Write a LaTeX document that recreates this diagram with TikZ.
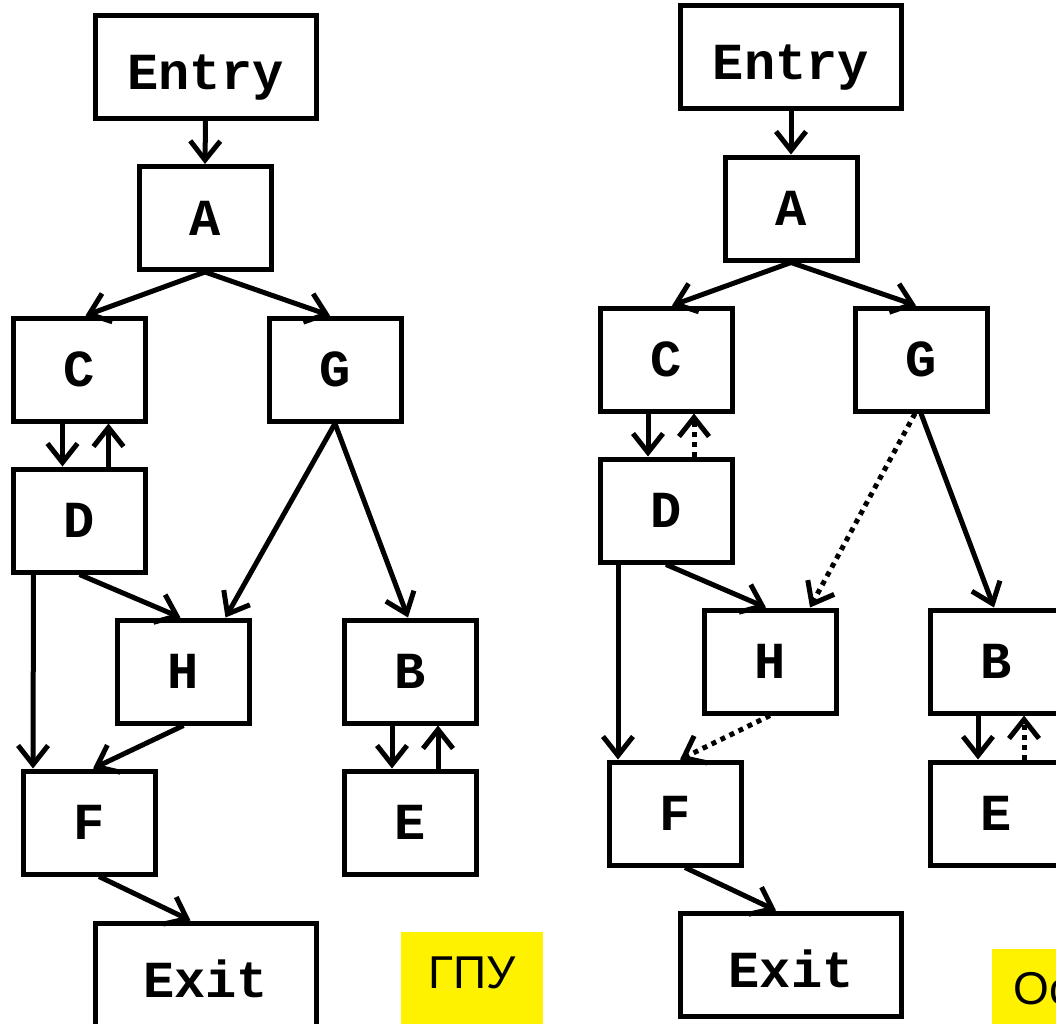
\documentclass[tikz,border=0pt]{standalone}
\usepackage{fontspec}
\setmonofont{Liberation Mono}
\newfontfamily\lsans{Liberation Sans}
\usetikzlibrary{arrows.meta}
\begin{document}
\begin{tikzpicture}[x=1pt,y=-1pt,
  blk/.style={draw, line width=5pt, rectangle, minimum width=132pt, minimum height=103pt,
    inner sep=0pt, font=\fontsize{52}{52}\selectfont\ttfamily\bfseries},
  wide/.style={blk, minimum width=221pt, text height=45pt, text depth=0pt},
  arr/.style={line width=5pt, -{Straight Barb[length=19pt,width=30pt]}},
  dot/.style={arr, dash pattern=on 5pt off 5pt},
  lbl/.style={fill=yellow, inner sep=0pt, font=\fontsize{46}{46}\selectfont\lsans}
]
\useasboundingbox (0,0) rectangle (1056,1023);
% ---------- left ----------
\node[wide] (en1) at (205.5,66.5) {Entry};
\node[blk] (a1) at (205,218) {A};
\node[blk] (c1) at (79.5,369.5) {C};
\node[blk] (g1) at (335,369.5) {G};
\node[blk] (d1) at (79.5,520.5) {D};
\node[blk] (h1) at (183.5,671.5) {H};
\node[blk] (b1) at (410,671.5) {B};
\node[blk] (f1) at (89,822.5) {F};
\node[blk] (e1) at (410,822.5) {E};
\node[wide] (ex1) at (205.5,974.5) {Exit};
\node[lbl, anchor=base west, text width=142pt, align=center, text height=56pt, text depth=45pt] (gpu) at (401,988) {ГПУ};

\draw[arr] (en1.south) -- (a1.north);
\draw[arr] (a1.south) -- ([xshift=6pt]c1.north);
\draw[arr] (a1.south) -- ([xshift=-5pt]g1.north);
\draw[arr] ([xshift=-17pt]c1.south) -- ([xshift=-17pt]d1.north);
\draw[arr] ([xshift=29pt]d1.north) -- ([xshift=29pt]c1.south);
\draw[arr] (g1.south) -- ([xshift=42pt]h1.north);
\draw[arr] (g1.south) -- ([xshift=-2pt]b1.north);
\draw[arr] (d1.south) -- ([xshift=-3pt]h1.north);
\draw[arr] ([xshift=-46pt]d1.south) -- ([xshift=-56pt]f1.north);
\draw[arr] (h1.south) -- ([xshift=4pt]f1.north);
\draw[arr] ([xshift=-18pt]b1.south) -- ([xshift=-18pt]e1.north);
\draw[arr] ([xshift=28pt]e1.north) -- ([xshift=28pt]b1.south);
\draw[arr] ([xshift=10pt]f1.south) -- ([xshift=-15pt]ex1.north);
% ---------- right ----------
\node[wide] (en2) at (791,57) {Entry};
\node[blk] (a2) at (791,208.5) {A};
\node[blk] (c2) at (666,359.5) {C};
\node[blk] (g2) at (921,359.5) {G};
\node[blk] (d2) at (666,510.5) {D};
\node[blk] (h2) at (770,661.5) {H};
\node[blk] (b2) at (996,661.5) {B};
\node[blk] (f2) at (675,813.5) {F};
\node[blk] (e2) at (996,813.5) {E};
\node[wide] (ex2) at (791,964.5) {Exit};
\node[lbl, anchor=base west, text width=200pt, align=left, inner xsep=21pt, text height=55pt, text depth=30pt] (os) at (992,1004) {Ос};

\draw[arr] (en2.south) -- (a2.north);
\draw[arr] (a2.south) -- ([xshift=6pt]c2.north);
\draw[arr] (a2.south) -- ([xshift=-5pt]g2.north);
\draw[arr] ([xshift=-18pt]c2.south) -- ([xshift=-18pt]d2.north);
\draw[dot] ([xshift=28pt]d2.north) -- ([xshift=28pt]c2.south);
\draw[dot] ([xshift=-6pt]g2.south) -- ([xshift=40pt]h2.north);
\draw[arr] (g2.south) -- ([xshift=-2pt]b2.north);
\draw[arr] (d2.south) -- ([xshift=-4pt]h2.north);
\draw[arr] ([xshift=-48pt]d2.south) -- ([xshift=-57pt]f2.north);
\draw[dot] (h2.south) -- ([xshift=5pt]f2.north);
\draw[arr] ([xshift=-18pt]b2.south) -- ([xshift=-18pt]e2.north);
\draw[dot] ([xshift=28pt]e2.north) -- ([xshift=28pt]b2.south);
\draw[arr] ([xshift=10pt]f2.south) -- ([xshift=-15pt]ex2.north);
\end{tikzpicture}
\end{document}
